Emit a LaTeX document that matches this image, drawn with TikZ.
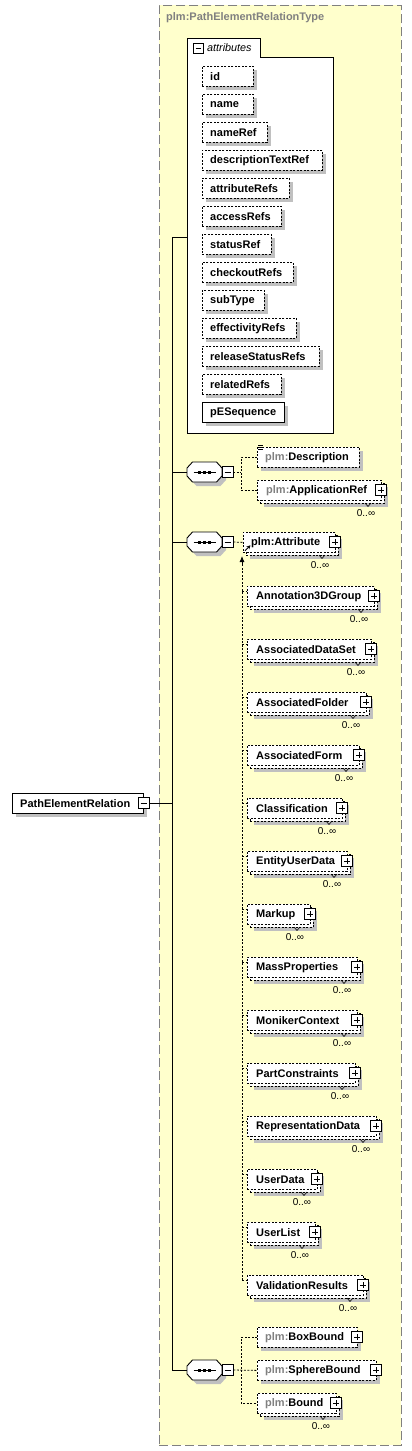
\documentclass[tikz,border=0pt]{standalone}
\usepackage{fontspec}
\setmainfont{Liberation Sans}
\usetikzlibrary{shadows,arrows.meta}
\definecolor{bgyellow}{RGB}{255,255,204}
\definecolor{shadowgray}{RGB}{192,192,192}
\definecolor{framegray}{RGB}{128,128,128}
\definecolor{pfx}{RGB}{128,128,128}
% octagon (sequence compositor)
\newcommand\octo[3]{\path[#1] ({#2-17.5},{#3-4}) -- ({#2-12},{#3-10}) -- ({#2+12},{#3-10}) -- ({#2+17.5},{#3-4}) -- ({#2+17.5},{#3+4}) -- ({#2+12},{#3+10}) -- ({#2-12},{#3+10}) -- ({#2-17.5},{#3+4}) -- cycle;}
\newcommand\seqsym[3]{%
  \octo{fill=shadowgray}{#2+4}{#3+4}
  \node[minimum width=35pt, minimum height=20pt] (#1) at (#2,#3) {};
  \octo{draw, fill=white, line width=0.9pt}{#2}{#3}
  \draw[line width=0.9pt] ({#2-11},#3) -- ({#2+11},#3);
  \foreach \dx in {-5,0,5}{\fill ({#2+\dx-1.5},{#3-1.5}) rectangle ++(3,3);}
  \node[minusbox] (#1m) at ({#2+23},#3) {};}
% element that may occur many times
\newcommand\multibox[4]{%
  \node[optbox, withshadow, minimum width={#4-#2}] (#1b) at ({#2+3},{#3+3}) {};
  \node[optbox, minimum width={#4-#2}] (#1) at (#2,#3) {};
  \draw[line width=0.6pt] ({#4-16},{#3+23}) -- ({#4-13},{#3+26.5}) -- ({#4-10},{#3+23});
  \node[plusbox] (#1p) at (#4,{#3+10}) {};
  \node[occ] (#1o) at ({#4-15},{#3+33}) {0..∞};}
\begin{document}
\begin{tikzpicture}[x=1pt,y=-1pt,
  every node/.style={inner sep=0pt},
  lbl/.style={font=\fontsize{11}{12}\selectfont\bfseries, anchor=west, inner sep=0pt},
  occ/.style={font=\fontsize{10}{12}\selectfont, inner sep=0pt},
  boxbase/.style={draw, fill=white, line width=0.8pt, anchor=north west, minimum height=20pt, inner sep=0pt},
  optbox/.style={boxbase, dash pattern=on 2pt off 1.5pt},
  reqbox/.style={boxbase},
  withshadow/.style={general shadow={fill=shadowgray, shadow xshift=4pt, shadow yshift=-4pt}},
  conn/.style={line width=0.8pt, dash pattern=on 2pt off 1.5pt},
  wire/.style={line width=0.9pt},
  plusbox/.style={draw, fill=white, line width=0.9pt, minimum size=11pt, inner sep=0pt,
    path picture={\draw[line width=0.8pt] ([xshift=2.5pt]path picture bounding box.west) -- ([xshift=-2.5pt]path picture bounding box.east) ([yshift=-2.5pt]path picture bounding box.north) -- ([yshift=2.5pt]path picture bounding box.south);}},
  minusbox/.style={draw, fill=white, line width=0.9pt, minimum size=11pt, inner sep=0pt,
    path picture={\draw[line width=0.8pt] ([xshift=2.5pt]path picture bounding box.west) -- ([xshift=-2.5pt]path picture bounding box.east);}}
]
\useasboundingbox (0,0) rectangle (412,1451);
% type frame
\node[draw=framegray, fill=bgyellow, line width=0.8pt, dash pattern=on 9pt off 4pt, anchor=north west, minimum width=242pt, minimum height=1440pt] (frame) at (159,5) {};
\node[lbl, text=pfx] (title) at (166,18) {plm:PathElementRelationType};

% attributes group
\node[minimum width=146pt, minimum height=376pt, anchor=north west] (attrs) at (187,57) {};
\draw[wire, fill=white] (187,38) -- (260,38) -- (260,57) -- (333,57) -- (333,433) -- (187,433) -- cycle;
\node[minusbox, minimum size=10pt] (tabm) at (198,48.5) {};
\node[font=\fontsize{10.8}{12}\selectfont\itshape, anchor=west] (tabt) at (207,48) {attributes};
\foreach \n/\t/\r [count=\i] in {id/66/253, name/94/253, nameRef/122/267, descriptionTextRef/150/322, attributeRefs/178/289, accessRefs/206/281, statusRef/234/271, checkoutRefs/262/293, subType/290/264, effectivityRefs/318/296, releaseStatusRefs/346/319, relatedRefs/374/281}{
  \node[optbox, withshadow, minimum width={\r-202}] (a\i) at (202,\t) {};
  \node[lbl] (at\i) at ([xshift=8pt]a\i.west) {\n};
}
\node[reqbox, withshadow, minimum width=82pt] (a13) at (202,402) {};
\node[lbl] (at13) at ([xshift=8pt]a13.west) {pESequence};

% root element
\node[reqbox, withshadow, minimum width=131pt] (root) at (12,793) {};
\node[lbl] (roott) at ([xshift=8pt]root.west) {PathElementRelation};
\node[minusbox] (rootm) at (143.5,803) {};

% main bus
\coordinate (jA) at (172,237);
\coordinate (jZ) at (172,1370);
\draw[wire] (jA) -- (jZ);
\draw[wire] (rootm.east) -- (rootm.east -| jA);
\draw[wire] (jA) -- (jA -| attrs.west);

% sequence 1
\seqsym{s1}{204.5}{472}
\draw[wire] (s1.west -| jA) -- (s1.west);
\node[optbox, withshadow, minimum width=102pt] (desc) at (257,447) {};
\node[lbl] (desct) at ([xshift=8pt]desc.west) {\textcolor{pfx}{plm:}Description};
\draw[line width=0.5pt] (258,445.5) -- (263,445.5) (258,447.5) -- (263,447.5) (258,449.5) -- (263,449.5);
\multibox{appr}{257}{480}{381}
\node[lbl] (apprt) at ([xshift=9pt]appr.west) {\textcolor{pfx}{plm:}ApplicationRef};
\coordinate (b1) at (241,472);
\draw[conn] (s1m.east) -- (b1);
\draw[conn] (desc.west) -| (b1) |- (appr.west);

% sequence 2
\seqsym{s2}{204.5}{542}
\draw[wire] (s2.west -| jA) -- (s2.west);
\multibox{attr}{243}{532}{335}
\node[lbl] (attrt) at ([xshift=8pt]attr.west) {plm:Attribute};
\draw[conn] (s2m.east) -- (attr.west);
\draw[line width=0.9pt, -{Stealth[length=4pt,width=4pt]}] ([xshift=2pt,yshift=2pt]attr.south west) -- ++(5.5,-5.5);
\coordinate (subtop) at (242,556);
\coordinate (subbot) at (242,1280);
\draw[conn] (subbot) -- ([yshift=-4pt]subtop);
\draw[line width=0.8pt, -{Latex[length=6pt,width=5pt]}] ([yshift=-8pt]subtop) -- (subtop);
\foreach \n/\t/\r [count=\i] in {Annotation3DGroup/586/374, AssociatedDataSet/639/371, AssociatedFolder/692/366, AssociatedForm/745/359, Classification/798/342, EntityUserData/851/347, Markup/904/310, MassProperties/957/357, MonikerContext/1010/357, PartConstraints/1063/355, RepresentationData/1116/376, UserData/1169/317, UserList/1222/315, ValidationResults/1275/363}{
  \multibox{m\i}{247}{\t}{\r}
  \node[lbl] (mt\i) at ([xshift=9pt]m\i.west) {\n};
  \draw[conn] ([yshift=5pt]m\i.west -| subtop) -- ([yshift=5pt]m\i.west);
}

% sequence 3
\seqsym{s3}{204.5}{1370}
\draw[wire] (s3.west -| jA) -- (s3.west);
\node[optbox, withshadow, minimum width=100pt] (boxb) at (257,1327) {};
\node[plusbox] (boxbp) at (357,1337) {};
\node[lbl] (boxbt) at ([xshift=8pt]boxb.west) {\textcolor{pfx}{plm:}BoxBound};
\node[optbox, withshadow, minimum width=119pt] (sph) at (257,1360) {};
\node[plusbox] (sphp) at (376,1370) {};
\node[lbl] (spht) at ([xshift=8pt]sph.west) {\textcolor{pfx}{plm:}SphereBound};
\multibox{bnd}{257}{1393}{336}
\node[lbl] (bndt) at ([xshift=8pt]bnd.west) {\textcolor{pfx}{plm:}Bound};
\coordinate (b3) at (241,1370);
\draw[conn] (s3m.east) -- (sph.west);
\draw[conn] (boxb.west) -| (b3) |- (bnd.west);
\end{tikzpicture}
\end{document}
